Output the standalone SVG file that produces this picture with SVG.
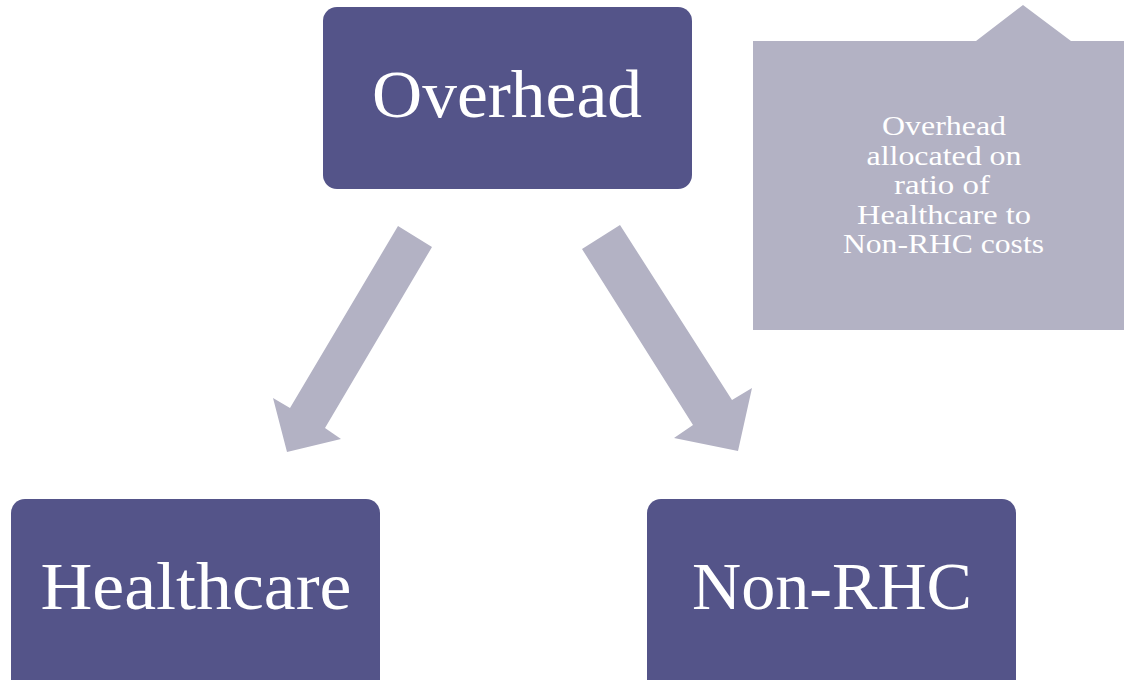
<svg xmlns="http://www.w3.org/2000/svg" width="1124" height="680" viewBox="0 0 1124 680">
<style>
.node{fill:#545489}
.big{font-family:"Liberation Serif",Georgia,serif;fill:#ffffff;font-size:68px;text-anchor:middle}
.note{font-family:"Liberation Serif",Georgia,serif;fill:#ffffff;font-size:28px;text-anchor:middle}
.arrow{fill:#b3b2c4}
</style>
<rect width="1124" height="680" fill="#ffffff"/>
<g id="connectors">
<polygon class="arrow" points="398,226 432,247 325,428 341,439 287,452 273,398 290,408"/>
<polygon class="arrow" points="620,225 582,249 693,425 674,438 738,451 752,388 732,400"/>
</g>
<g id="overhead">
<rect class="node" x="323" y="7" width="369" height="182" rx="14"/>
<text class="big" x="507" y="117" textLength="270" lengthAdjust="spacingAndGlyphs">Overhead</text>
</g>
<g id="healthcare">
<rect class="node" x="11" y="499" width="369" height="200" rx="14"/>
<text class="big" x="196" y="609" textLength="311" lengthAdjust="spacingAndGlyphs">Healthcare</text>
</g>
<g id="nonrhc">
<rect class="node" x="647" y="499" width="369" height="200" rx="14"/>
<text class="big" x="832" y="609" textLength="280" lengthAdjust="spacingAndGlyphs">Non-RHC</text>
</g>
<g id="callout">
<polygon class="arrow" points="753,41 976,41 1023,5 1071,41 1124,41 1124,330 753,330"/>
<text class="note" x="944" y="135" textLength="124" lengthAdjust="spacingAndGlyphs">Overhead</text>
<text class="note" x="944" y="164.5" textLength="155" lengthAdjust="spacingAndGlyphs">allocated on</text>
<text class="note" x="942" y="194" textLength="96" lengthAdjust="spacingAndGlyphs">ratio of</text>
<text class="note" x="944" y="223.5" textLength="174" lengthAdjust="spacingAndGlyphs">Healthcare to</text>
<text class="note" x="943.5" y="253" textLength="201" lengthAdjust="spacingAndGlyphs">Non-RHC costs</text>
</g>
</svg>
